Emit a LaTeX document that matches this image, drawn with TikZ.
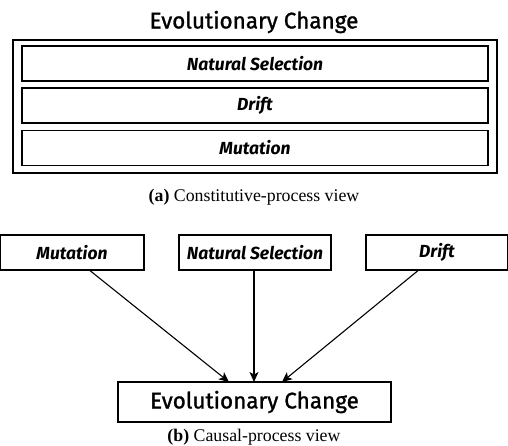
\documentclass[tikz,border=0pt]{standalone}
\usepackage{fontspec}
\setmainfont{Liberation Serif}
\newfontfamily\boxfont{Fira Sans}
\newfontfamily\titlefont[FakeBold=1.2]{Fira Sans}
\usetikzlibrary{arrows.meta}
\begin{document}
\begin{tikzpicture}[x=1pt,y=-1pt,
  lbl/.style={draw,line width=1.2pt,minimum height=35pt,inner sep=0pt,font=\boxfont\bfseries\itshape\fontsize{17.5}{19}\selectfont},
  ttl/.style={font=\titlefont\fontsize{22.5}{24}\selectfont,inner sep=0pt},
  captxt/.style={font=\fontsize{17.8}{19}\selectfont,inner sep=0pt},
  arr/.style={line width=1.1pt,-{Stealth[length=10pt,width=9pt,inset=2.5pt]}}]
\useasboundingbox (0,0) rectangle (508,446);
% (a)
\node[ttl] (t1) at (254,22) {Evolutionary Change};
\node[draw,line width=1.2pt,minimum width=484pt,minimum height=133pt,inner sep=0pt] (outer) at (255,106.5) {};
\node[lbl,minimum width=466pt] (ns1) at (255,63.5) {Natural Selection};
\node[lbl,minimum width=466pt] (dr1) at (255,105.5) {Drift};
\node[lbl,minimum width=466pt] (mu1) at (255,148) {Mutation};
\node[captxt] (capa) at (254,197) {\textbf{(a)} Constitutive-process view};
% (b)
\node[lbl,minimum width=144pt] (mu2) at (72,252.5) {Mutation};
\node[lbl,minimum width=152pt] (ns2) at (255,252.5) {Natural Selection};
\node[lbl,minimum width=142pt] (dr2) at (437,252.5) {Drift};
\node[draw,line width=1.2pt,minimum width=273pt,minimum height=40pt,inner sep=0pt,font=\titlefont\fontsize{22.5}{24}\selectfont] (ec) at (254.5,402) {Evolutionary Change};
\node[captxt] (capb) at (254,437) {\textbf{(b)} Causal-process view};
\coordinate (e1) at (229,382);
\coordinate (e2) at (254,382);
\coordinate (e3) at (282,382);
\draw[arr] (mu2.south -| 90,0) -- (e1);
\draw[arr] (ns2.south -| 254,0) -- (e2);
\draw[arr] (dr2.south -| 418,0) -- (e3);
\end{tikzpicture}
\end{document}
